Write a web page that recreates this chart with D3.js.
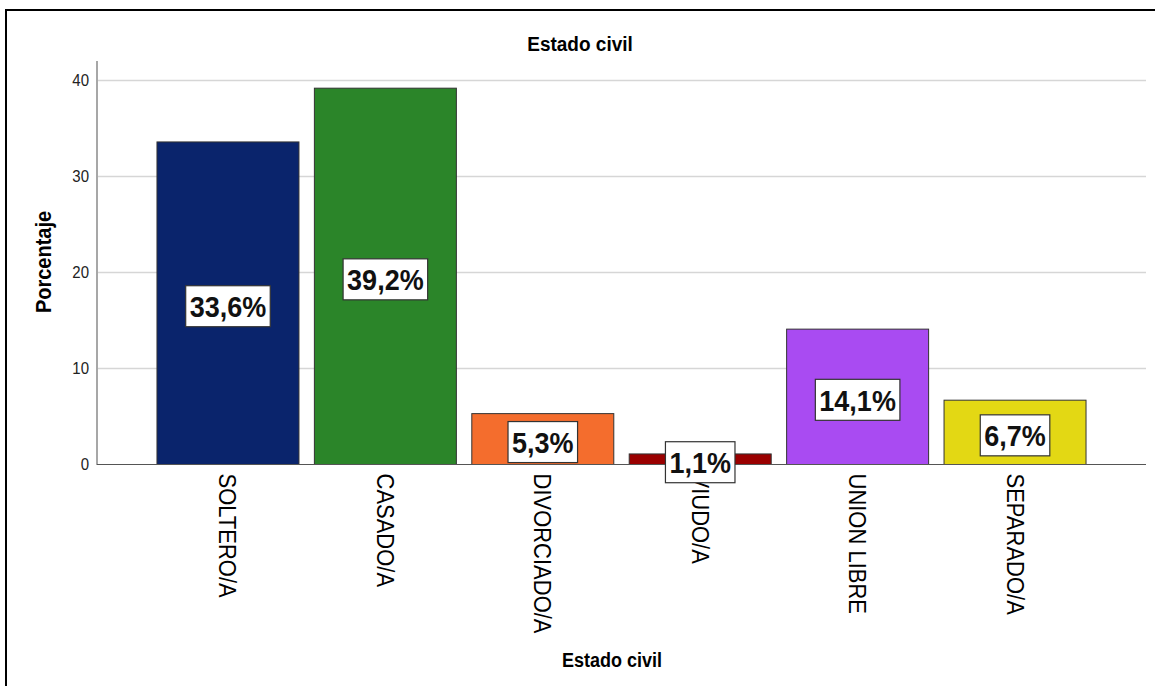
<!DOCTYPE html>
<html>
<head>
<meta charset="utf-8">
<script src="https://cdn.jsdelivr.net/npm/d3@7"></script>
<style>
  html, body { margin: 0; padding: 0; background: #fff; }
  svg { display: block; font-family: "Liberation Sans", Arial, sans-serif; }
</style>
</head>
<body>
<svg id="chart" width="1155" height="686"></svg>
<script>
// Marital status distribution (percent of respondents)
const categories = ["SOLTERO/A", "CASADO/A", "DIVORCIADO/A", "VIUDO/A", "UNION LIBRE", "SEPARADO/A"];
const percentages = [33.6, 39.2, 5.3, 1.1, 14.1, 6.7];
const barColors = ["#0a246c", "#2b8529", "#f46d2d", "#9a0000", "#a94bf2", "#e3d814"];
const yTicks = [0, 10, 20, 30, 40];

// Glyphs are drawn slightly taller than the stock face
const STRETCH = 1.1;

const svg = d3.select("#chart");

// Outer frame (left and top edges visible)
svg.append("rect")
  .attr("x", 6).attr("y", 10)
  .attr("width", 1200).attr("height", 720)
  .attr("fill", "none").attr("stroke", "#000").attr("stroke-width", 2);

const x = d3.scaleBand()
  .domain(categories)
  .range([97, 1146])
  .paddingInner(0.098)
  .paddingOuter(0.381);

const y = d3.scaleLinear()
  .domain([0, 40])
  .range([464.5, 80.5]);

// Horizontal gridlines
svg.append("g")
  .selectAll("line")
  .data(yTicks.filter(d => d > 0))
  .join("line")
  .attr("x1", 98).attr("x2", 1146)
  .attr("y1", d => y(d)).attr("y2", d => y(d))
  .attr("stroke", "#d6d6d6").attr("stroke-width", 1.5);

// Y axis
const yAxis = d3.axisLeft(y).tickValues(yTicks).tickSize(0).tickPadding(8);
const gy = svg.append("g").attr("transform", "translate(97,0)").call(yAxis);
gy.select(".domain").remove();
gy.selectAll(".tick text")
  .attr("font-size", 15).attr("fill", "#222")
  .attr("font-family", "Liberation Sans, Arial, sans-serif")
  .attr("transform", `scale(1,${STRETCH})`);
svg.append("line")
  .attr("x1", 97).attr("x2", 97)
  .attr("y1", 61).attr("y2", 465)
  .attr("stroke", "#8a8a8a").attr("stroke-width", 1.5);

// Bars
svg.append("g")
  .selectAll("rect")
  .data(categories)
  .join("rect")
  .attr("x", d => x(d))
  .attr("width", x.bandwidth())
  .attr("y", (d, i) => y(percentages[i]))
  .attr("height", (d, i) => y(0) - y(percentages[i]))
  .attr("fill", (d, i) => barColors[i])
  .attr("stroke", "#333").attr("stroke-width", 1);

// X axis baseline
svg.append("line")
  .attr("x1", 97).attr("x2", 1146)
  .attr("y1", y(0)).attr("y2", y(0))
  .attr("stroke", "#555").attr("stroke-width", 1.2);

// Rotated category labels
const xAxis = d3.axisBottom(x).tickSize(0).tickPadding(0);
const gx = svg.append("g").attr("transform", `translate(0,${y(0)})`).call(xAxis);
gx.select(".domain").remove();
gx.selectAll(".tick text")
  .attr("font-size", 22).attr("fill", "#000")
  .attr("font-family", "Liberation Sans, Arial, sans-serif")
  .attr("transform", `rotate(90) translate(9,0) scale(1,${STRETCH})`)
  .attr("text-anchor", "start")
  .attr("dy", "0.35em")
  .attr("x", 0)
  .attr("y", 0);

// Value labels in white boxes at mid-height of each bar
const labels = svg.append("g")
  .selectAll("g")
  .data(categories)
  .join("g")
  .attr("transform", (d, i) => `translate(${x(d) + x.bandwidth() / 2},${y(percentages[i] / 2) + 3})`);

labels.each(function (d, i) {
  const g = d3.select(this);
  const t = g.append("text")
    .attr("text-anchor", "middle")
    .attr("dy", "0.36em")
    .attr("font-size", 27)
    .attr("font-weight", "bold")
    .attr("fill", "#111")
    .attr("transform", `scale(1,${STRETCH})`)
    .text(percentages[i].toFixed(1).replace(".", ",") + "%");
  const bb = t.node().getBBox();
  g.insert("rect", "text")
    .attr("x", bb.x - 4).attr("y", -20.5)
    .attr("width", bb.width + 8).attr("height", 41)
    .attr("fill", "#fff").attr("stroke", "#333").attr("stroke-width", 1.2);
});

// Titles
svg.append("text")
  .attr("transform", `translate(580,51) scale(1,${STRETCH})`)
  .attr("text-anchor", "middle")
  .attr("font-size", 19).attr("font-weight", "bold")
  .text("Estado civil");

svg.append("text")
  .attr("transform", `translate(612,667) scale(1,${STRETCH})`)
  .attr("text-anchor", "middle")
  .attr("font-size", 18).attr("font-weight", "bold")
  .text("Estado civil");

svg.append("text")
  .attr("transform", `translate(51,262) rotate(-90) scale(1,${STRETCH})`)
  .attr("text-anchor", "middle")
  .attr("font-size", 20).attr("font-weight", "bold")
  .text("Porcentaje");
</script>
</body>
</html>
